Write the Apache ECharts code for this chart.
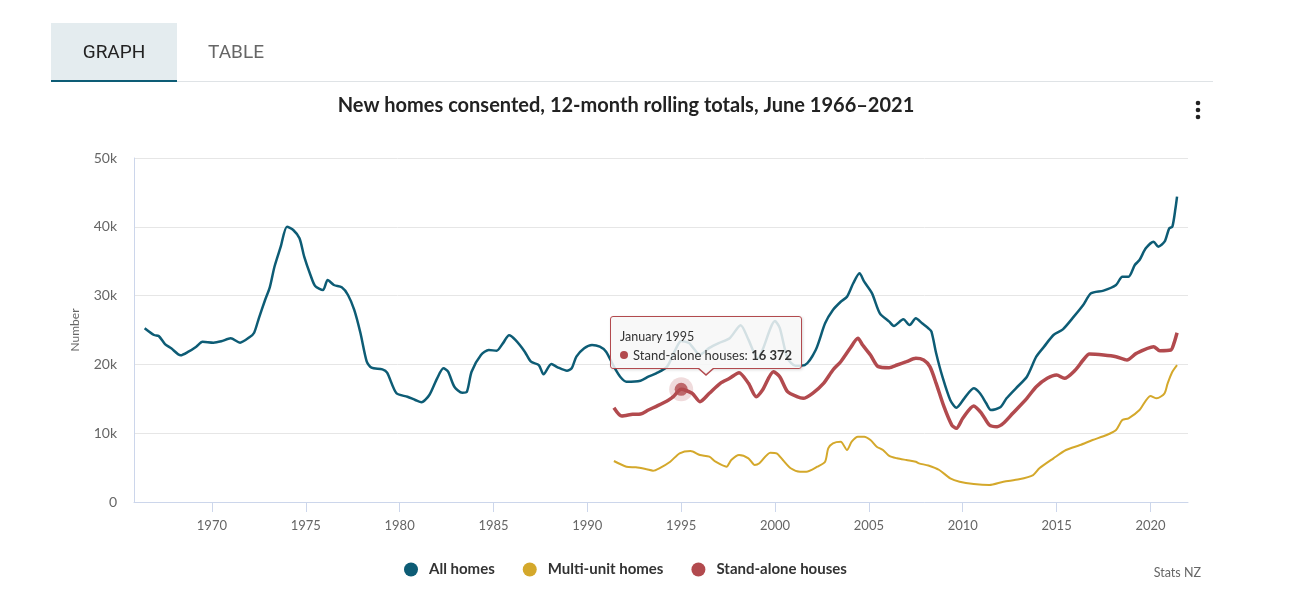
<!DOCTYPE html>
<html>
<head>
<meta charset="utf-8">
<script src="https://cdn.jsdelivr.net/npm/echarts@6/dist/echarts.min.js"></script>
<style>
    html, body { margin: 0; padding: 0; background: #fff; }
    #wrap { position: relative; width: 1292px; height: 604px; overflow: hidden; }
    #chart { position: absolute; left: 0; top: 0; width: 1292px; height: 604px; }
    .tabs { position: absolute; left: 51px; top: 23px; width: 1162px; height: 58px; border-bottom: 1px solid #dfe3e6; z-index: 2; font-family: Roboto, sans-serif; font-size: 19px; }
    .tab { position: absolute; top: 0; height: 57px; line-height: 58px; text-align: center; }
    .tab.active { left: 0; width: 126px; background: #e4ecef; color: #222; border-bottom: 2px solid #0d5c75; }
    .tab.other { left: 126px; width: 118px; color: #666; }
</style>
</head>
<body>
<div id="wrap">
    <div id="chart"></div>
    <div class="tabs">
        <div class="tab active">GRAPH</div>
        <div class="tab other">TABLE</div>
    </div>
</div>
<script>
// 12-month rolling totals
const allDates = ['1966-06', '1966-12', '1967-03', '1967-07', '1967-11', '1968-05', '1968-10', '1969-03', '1969-07',
    '1970-02', '1970-07', '1971-01', '1971-07', '1972-01', '1972-04', '1972-07', '1972-11', '1973-02', '1973-05',
    '1973-09', '1974-01', '1974-05', '1974-09', '1974-12', '1975-04', '1975-07', '1975-12', '1976-03', '1976-07',
    '1976-12', '1977-04', '1977-08', '1977-12', '1978-04', '1978-07', '1979-02', '1979-05', '1979-11', '1980-06',
    '1980-11', '1981-03', '1981-08', '1982-01', '1982-05', '1982-08', '1982-12', '1983-05', '1983-08', '1983-11',
    '1984-05', '1984-10', '1985-03', '1985-07', '1985-11', '1986-03', '1986-09', '1987-01', '1987-06', '1987-09',
    '1988-02', '1988-06', '1988-12', '1989-03', '1989-06', '1989-11', '1990-04', '1990-09', '1991-01', '1991-06',
    '1991-10', '1992-02', '1992-11', '1993-04', '1993-09', '1994-04', '1994-09', '1995-01', '1995-06', '1996-01',
    '1996-07', '1997-01', '1997-08', '1998-03', '1998-08', '1999-02', '1999-05', '2000-01', '2000-04', '2000-09',
    '2001-02', '2001-08', '2002-03', '2002-09', '2003-02', '2003-07', '2003-11', '2004-03', '2004-07', '2004-10',
    '2005-03', '2005-08', '2006-02', '2006-05', '2006-11', '2007-03', '2007-07', '2007-11', '2008-03', '2008-05',
    '2008-08', '2008-12', '2009-05', '2009-09', '2010-02', '2010-08', '2010-12', '2011-04', '2011-07', '2012-01',
    '2012-05', '2012-11', '2013-06', '2013-12', '2014-05', '2014-11', '2015-05', '2015-12', '2016-06', '2016-11',
    '2017-07', '2018-03', '2018-07', '2018-11', '2019-03', '2019-06', '2019-10', '2020-03', '2020-06', '2020-10',
    '2021-01', '2021-03', '2021-05', '2021-06']
const allValues = [25250, 24270, 24130, 22960, 22340, 21320, 21850, 22580, 23300,
    23160, 23360, 23790, 23160, 23940, 24610, 26700, 29360, 31200, 34200,
    37110, 40020, 39530, 38330, 35660, 33000, 31400, 30810, 32270, 31540,
    31200, 30090, 27910, 24520, 20390, 19520, 19280, 18800, 15800, 15300,
    14830, 14490, 15550, 17980, 19430, 18940, 16760, 15890, 16030, 18940,
    21370, 22090, 21990, 23060, 24230, 23550, 21850, 20390, 19910, 18560,
    20060, 19580, 19090, 19430, 21120, 22340, 22820, 22580, 21850, 19670,
    18210, 17490, 17630, 18210, 18700, 19670, 22000, 23400, 23100, 21400,
    22400, 23100, 23800, 25700, 23600, 20800, 22100, 26300, 25300, 20900,
    19800, 19900, 22090, 25970, 27900, 29110, 29840, 31790, 33240, 32020,
    30330, 27430, 26210, 25580, 26550, 25730, 26700, 25970, 25250, 24760,
    21610, 18210, 14830, 13710, 15070, 16530, 15800, 14350, 13370, 13760,
    15070, 16530, 18210, 21120, 22580, 24270, 25100, 26940, 28630, 30330,
    30720, 31540, 32750, 32750, 34450, 35170, 36870, 37830, 37110, 37830,
    39780, 40020, 42690, 44380]

const multiDates = ['1991-06', '1992-02', '1992-08', '1993-03', '1993-07', '1993-11', '1994-06', '1994-12', '1995-07',
    '1996-01', '1996-07', '1996-11', '1997-06', '1997-09', '1998-02', '1998-08', '1998-12', '1999-03', '1999-10',
    '2000-02', '2000-06', '2000-11', '2001-05', '2001-09', '2002-04', '2002-09', '2002-11', '2003-02', '2003-07',
    '2003-11', '2004-02', '2004-06', '2004-10', '2005-02', '2005-06', '2005-10', '2006-02', '2006-07', '2007-01',
    '2007-07', '2007-09', '2008-03', '2008-10', '2009-05', '2009-11', '2010-08', '2011-06', '2012-03', '2013-01',
    '2013-10', '2014-02', '2014-11', '2015-07', '2016-04', '2016-12', '2017-09', '2018-03', '2018-07', '2018-11',
    '2019-06', '2020-01', '2020-05', '2020-10', '2020-12', '2021-03', '2021-06']
const multiValues = [5960, 5130, 5040, 4750, 4550, 4900, 5860, 7080, 7410,
    6830, 6590, 5860, 5130, 6100, 6830, 6350, 5380, 5620, 7170,
    7080, 6100, 4900, 4400, 4400, 5130, 5860, 7800, 8530, 8760,
    7560, 8760, 9490, 9490, 9010, 8040, 7560, 6690, 6350, 6100,
    5860, 5620, 5300, 4650, 3440, 2950, 2620, 2470, 2950, 3300,
    3920, 4900, 6350, 7560, 8280, 9010, 9740, 10470, 11920, 12170,
    13370, 15410, 15070, 15800, 17250, 18940, 19910]

const standDates = ['1991-06', '1991-11', '1992-06', '1992-11', '1993-04', '1993-10', '1994-05', '1994-08', '1995-01',
    '1995-08', '1996-01', '1996-07', '1997-02', '1997-08', '1998-02', '1998-08', '1999-01', '1999-05', '1999-12',
    '2000-04', '2000-09', '2001-03', '2001-07', '2002-01', '2002-08', '2003-02', '2003-07', '2004-01', '2004-06',
    '2004-09', '2005-02', '2005-07', '2006-02', '2006-07', '2007-01', '2007-07', '2007-12', '2008-04', '2008-08',
    '2009-01', '2009-06', '2009-09', '2010-01', '2010-08', '2011-01', '2011-06', '2011-11', '2012-03', '2012-09',
    '2013-06', '2013-12', '2014-07', '2015-01', '2015-06', '2016-01', '2016-06', '2016-10', '2017-07', '2018-03',
    '2018-10', '2019-04', '2020-03', '2020-07', '2021-02', '2021-04', '2021-06']
const standValues = [13710, 12500, 12740, 12790, 13370, 14000, 14830, 15310, 16372,
    15800, 14580, 15800, 17250, 17980, 18800, 17250, 15310, 16280, 18940,
    18210, 16030, 15310, 15070, 15800, 17250, 19190, 20390, 22340, 23790,
    22820, 21370, 19670, 19520, 19910, 20390, 20890, 20640, 19670, 17250,
    13850, 11190, 10710, 12170, 13950, 12890, 11190, 10950, 11440, 12890,
    15070, 16760, 17980, 18460, 17980, 19190, 20640, 21510, 21370, 21120,
    20640, 21610, 22580, 21990, 22090, 23060, 24610]

const xTicks = [1970, 1975, 1980, 1985, 1990, 1995, 2000, 2005, 2010, 2015, 2020]
const tipDate = '1995-01'

const months = ['January', 'February', 'March', 'April', 'May', 'June', 'July',
    'August', 'September', 'October', 'November', 'December']

function toYear(d) {
    const p = d.split('-')
    return +p[0] + (+p[1] - 1) / 12
}

function pairs(dates, values) {
    return dates.map((d, i) => [toYear(d), values[i]])
}

function fmtNum(v) {
    return String(v).replace(/\B(?=(\d{3})+(?!\d))/g, ' ')
}

function draw() {
    const chart = echarts.init(document.getElementById('chart'))
    chart.setOption(getOptions())
    chart.dispatchAction({ type: 'showTip', seriesIndex: 4, dataIndex: 0 })
}

function getOptions() {
    const tipIdx = standDates.indexOf(tipDate)
    const tipPoint = [toYear(standDates[tipIdx]), standValues[tipIdx]]
    const font = 'Lato, "Open Sans", sans-serif'

    return {
        animation: false,
        textStyle: { fontFamily: font },
        title: {
            text: 'New homes consented, 12-month rolling totals, June 1966–2021',
            left: 621,
            textAlign: 'center',
            top: 91,
            textStyle: { fontFamily: font, fontWeight: 'bold', fontSize: 20, color: '#222' }
        },
        grid: { left: 134, right: 104, top: 158, bottom: 102 },
        legend: {
            left: 399,
            top: 557,
            icon: 'circle',
            itemWidth: 14,
            itemHeight: 14,
            itemGap: 28,
            data: ['All homes', 'Multi-unit homes', 'Stand-alone houses'],
            textStyle: { fontFamily: font, fontWeight: 'bold', fontSize: 15, color: '#333', padding: [0, 0, 0, 6] }
        },
        tooltip: {
            trigger: 'item',
            triggerOn: 'none',
            alwaysShowContent: true,
            transitionDuration: 0,
            backgroundColor: 'rgba(247,247,247,0.85)',
            borderColor: '#b24a4e',
            borderWidth: 1,
            padding: [11, 9, 4, 9],
            extraCssText: 'border-radius:3px;box-shadow:1px 1px 3px rgba(0,0,0,0.15);',
            position: function (point) {
                return [point[0] - 71, point[1] - 73]
            },
            formatter: function (p) {
                const d = p.name.split('-')
                return '<div style="font-family:Lato,sans-serif;font-size:12.5px;color:#333;line-height:18px">' +
                    months[+d[1] - 1] + ' ' + d[0] + '</div>' +
                    '<div style="font-family:Lato,sans-serif;font-size:13px;color:#333;line-height:18px">' +
                    '<span style="display:inline-block;width:8px;height:8px;border-radius:50%;background:#b24a4e;margin-right:5px;vertical-align:1px"></span>' +
                    'Stand-alone houses: <b>' + fmtNum(p.value[1]) + '</b></div>' +
                    '<div style="position:absolute;left:86px;top:100%;width:0;height:0;border-left:9px solid transparent;border-right:9px solid transparent;border-top:8px solid #b24a4e"></div>' +
                    '<div style="position:absolute;left:87px;top:100%;width:0;height:0;border-left:8px solid transparent;border-right:8px solid transparent;border-top:7px solid #f8f8f8;margin-top:-1px"></div>'
            }
        },
        xAxis: {
            type: 'value',
            min: 1965.85,
            max: 2022,
            splitLine: { show: false },
            axisLine: { show: true, lineStyle: { color: '#ccd6eb' } },
            axisTick: { show: true, length: 10, customValues: xTicks, lineStyle: { color: '#ccd6eb' } },
            axisLabel: {
                customValues: xTicks,
                margin: 17,
                fontSize: 13,
                color: '#666',
                formatter: v => String(v)
            }
        },
        yAxis: {
            type: 'value',
            min: 0,
            max: 50000,
            interval: 10000,
            name: 'Number',
            nameLocation: 'middle',
            nameGap: 53,
            nameTextStyle: { fontSize: 12, color: '#666' },
            axisLine: { show: true, lineStyle: { color: '#ccd6eb' } },
            axisTick: { show: false },
            splitLine: { lineStyle: { color: '#e6e6e6' } },
            axisLabel: {
                margin: 17,
                fontSize: 14,
                color: '#666',
                formatter: v => v === 0 ? '0' : v / 1000 + 'k'
            }
        },
        graphic: [
            { type: 'circle', shape: { cx: 1198, cy: 103, r: 2.3 }, style: { fill: '#222' } },
            { type: 'circle', shape: { cx: 1198, cy: 110, r: 2.3 }, style: { fill: '#222' } },
            { type: 'circle', shape: { cx: 1198, cy: 117, r: 2.3 }, style: { fill: '#222' } },
            {
                type: 'text', right: 91, top: 566,
                style: { text: 'Stats NZ', fill: '#666', font: '12.5px ' + font }
            }
        ],
        series: [
            {
                name: 'All homes',
                type: 'line',
                showSymbol: false,
                smooth: 0.25,
                color: '#0d5c75',
                lineStyle: { width: 2.5 },
                data: pairs(allDates, allValues)
            },
            {
                name: 'Multi-unit homes',
                type: 'line',
                showSymbol: false,
                smooth: 0.25,
                color: '#d4a82b',
                lineStyle: { width: 2 },
                data: pairs(multiDates, multiValues)
            },
            {
                name: 'Stand-alone houses',
                type: 'line',
                showSymbol: false,
                smooth: 0.25,
                color: '#b24a4e',
                lineStyle: { width: 3.5 },
                data: pairs(standDates, standValues)
            },
            { // halo round the hovered point
                name: 'Stand-alone houses',
                type: 'scatter',
                silent: true,
                z: 4,
                symbolSize: 24,
                itemStyle: { color: 'rgba(178,74,78,0.25)' },
                data: [tipPoint]
            },
            {
                name: 'Stand-alone houses',
                type: 'scatter',
                z: 5,
                symbolSize: 13,
                itemStyle: { color: '#b24a4e' },
                data: [{ name: tipDate, value: tipPoint }]
            }
        ]
    }
}

draw()
</script>
</body>
</html>
